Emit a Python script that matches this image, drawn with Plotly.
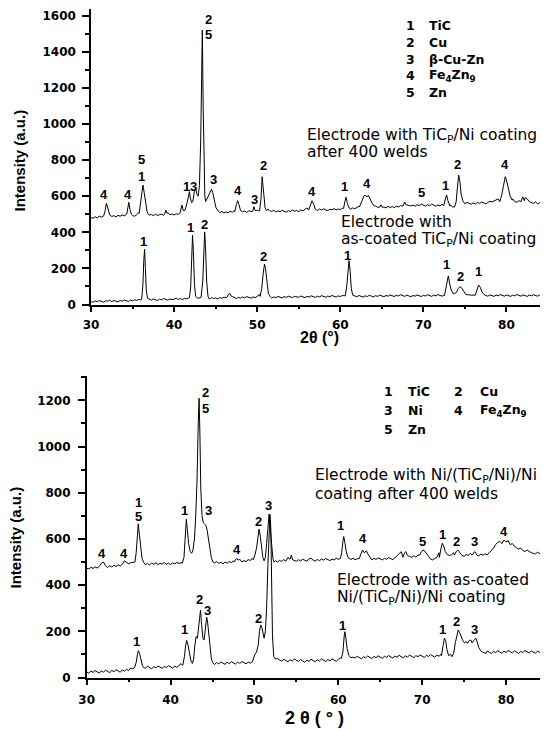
import numpy as np
import plotly.graph_objects as go

# ---------------- data ----------------
# 2-theta sampling grid of the diffractometer baseline
two_theta = np.round(np.arange(30.0, 85.001, 0.25), 2)

# --- Top panel, upper curve: TiCp/Ni coating after 400 welds ---
topA_base = [
    481, 478, 486, 480, 489, 484, 490, 500, 520, 496, 488, 492, 485, 494, 489, 496, 491, 499, 520, 500,
    493, 489, 497, 510, 540, 600, 530, 503, 495, 499, 492, 500, 494, 497, 501, 494, 510, 508, 497, 502,
    496, 503, 499, 506, 520, 540, 525, 560, 600, 610, 620, 900, 1000, 600, 580, 620, 630, 560, 530, 522,
    526, 515, 509, 516, 507, 513, 508, 518, 511, 520, 540, 570, 530, 514, 519, 510, 520, 515, 530, 540,
    522, 518, 560, 690, 600, 528, 521, 515, 523, 512, 519, 514, 522, 516, 511, 520, 515, 523, 517, 521,
    514, 524, 519, 527, 535, 560, 570, 540, 526, 521, 529, 523, 530, 524, 520, 528, 525, 531, 524, 529,
    526, 533, 545, 590, 560, 528, 535, 530, 540, 545, 590, 600, 604, 590, 570, 548, 540, 546, 538, 550,
    548, 540, 535, 544, 537, 543, 536, 545, 540, 548, 542, 552, 552, 548, 546, 551, 544, 553, 548, 556,
    550, 545, 553, 547, 556, 549, 544, 552, 546, 555, 570, 600, 590, 552, 540, 560, 700, 640, 575, 562,
    558, 566, 560, 555, 563, 557, 566, 560, 568, 562, 558, 565, 572, 568, 575, 578, 585, 640, 690, 700,
    680, 630, 600, 585, 570, 566, 575, 568, 580, 592, 585, 570, 566, 560, 568, 558, 564, 559, 565, 557,
    561]
topA_peaks = [
    [(31.55, 495), (31.7, 520), (31.85, 560), (32.0, 540), (32.15, 505)],
    [(34.3, 500), (34.45, 540), (34.55, 566), (34.7, 525), (34.85, 500)],
    [(35.8, 505), (35.95, 560), (36.1, 640), (36.25, 662), (36.4, 620), (36.55, 560), (36.75, 515), (36.9, 500)],
    [(38.85, 500), (39.0, 523), (39.15, 505)],
    [(40.7, 505), (40.85, 530), (40.95, 551), (41.1, 520), (41.3, 522), (41.55, 560), (41.75, 610),
     (41.85, 625), (41.95, 590), (42.1, 565), (42.25, 570), (42.45, 630), (42.6, 645), (42.75, 610),
     (42.9, 600), (43.05, 660), (43.2, 900), (43.3, 1250), (43.4, 1520), (43.5, 1100), (43.6, 760),
     (43.7, 600), (43.8, 570), (43.95, 585), (44.1, 600), (44.3, 625), (44.5, 638), (44.65, 620),
     (44.85, 570), (45.05, 535), (45.3, 518)],
    [(47.3, 515), (47.5, 555), (47.65, 575), (47.8, 555), (48.0, 520)],
    [(49.45, 516), (49.6, 542), (49.75, 520)],
    [(50.3, 522), (50.45, 580), (50.6, 708), (50.75, 610), (50.95, 535), (51.15, 520)],
    [(56.2, 523), (56.45, 560), (56.6, 575), (56.8, 555), (57.0, 528)],
    [(60.4, 532), (60.55, 570), (60.7, 594), (60.85, 560), (61.05, 535)],
    [(62.3, 540), (62.6, 575), (62.85, 600), (63.0, 607), (63.2, 596), (63.4, 604), (63.6, 580),
     (63.85, 560), (64.1, 545)],
    [(64.75, 540), (64.9, 552), (65.05, 538)],
    [(67.55, 545), (67.75, 568), (67.95, 550)],
    [(72.45, 548), (72.65, 585), (72.8, 607), (72.95, 575), (73.2, 545)],
    [(73.75, 540), (73.95, 570), (74.1, 650), (74.25, 717), (74.4, 680), (74.55, 610), (74.75, 575), (74.95, 562)],
    [(79.2, 570), (79.45, 610), (79.65, 660), (79.85, 708), (80.0, 690), (80.2, 640), (80.45, 600), (80.7, 578)],
    [(81.75, 570), (81.95, 597), (82.15, 575)],
]

# --- Top panel, lower curve: as-coated TiCp/Ni ---
topB_base = [
    16, 12, 20, 15, 22, 17, 13, 21, 18, 24, 16, 22, 19, 14, 23, 18, 25, 20, 17, 24,
    20, 26, 22, 28, 25, 60, 300, 80, 30, 24, 31, 27, 22, 30, 26, 33, 28, 24, 31, 27,
    29, 35, 28, 33, 27, 34, 31, 37, 300, 60, 33, 35, 36, 300, 40, 32, 37, 30, 38, 33,
    36, 31, 39, 34, 41, 37, 52, 62, 45, 38, 33, 40, 35, 42, 37, 44, 39, 35, 42, 38,
    45, 55, 120, 200, 100, 50, 40, 36, 42, 38, 45, 41, 36, 44, 39, 46, 41, 38, 45, 42,
    40, 47, 43, 38, 45, 41, 48, 43, 39, 46, 42, 49, 44, 40, 47, 43, 50, 45, 41, 48,
    44, 50, 48, 120, 240, 90, 52, 46, 43, 50, 45, 41, 48, 44, 51, 46, 42, 49, 45, 52,
    47, 43, 50, 46, 53, 48, 44, 51, 47, 54, 49, 45, 52, 47, 43, 50, 46, 53, 48, 44,
    51, 47, 54, 49, 45, 52, 48, 55, 50, 46, 53, 120, 160, 100, 60, 70, 95, 90, 70, 55,
    53, 50, 54, 52, 50, 90, 60, 52, 48, 55, 50, 46, 53, 49, 45, 52, 48, 55, 50, 46,
    53, 49, 45, 52, 48, 55, 50, 46, 53, 49, 45, 52, 48, 54, 50, 46, 53, 49, 45, 51,
    48]
topB_peaks = [
    [(36.1, 30), (36.25, 110), (36.35, 240), (36.45, 306), (36.55, 200), (36.65, 80), (36.8, 35)],
    [(41.85, 38), (42.0, 100), (42.12, 300), (42.22, 385), (42.32, 300), (42.45, 110), (42.6, 45), (42.8, 36)],
    [(43.25, 40), (43.45, 130), (43.58, 320), (43.68, 402), (43.78, 320), (43.92, 130), (44.08, 45)],
    [(46.4, 42), (46.55, 58), (46.7, 62), (46.85, 48)],
    [(50.35, 45), (50.55, 90), (50.72, 170), (50.88, 224), (51.0, 200), (51.15, 120), (51.35, 60), (51.6, 42)],
    [(60.6, 48), (60.8, 110), (60.93, 200), (61.05, 243), (61.18, 190), (61.32, 90), (61.5, 52)],
    [(72.55, 50), (72.75, 100), (72.9, 150), (73.0, 158), (73.15, 120), (73.35, 80), (73.6, 60), (73.8, 62)],
    [(73.95, 65), (74.2, 88), (74.4, 99), (74.6, 92), (74.85, 70), (75.1, 56), (75.4, 53)],
    [(76.25, 52), (76.45, 80), (76.65, 108), (76.85, 95), (77.05, 70), (77.3, 55)],
]

# --- Bottom panel, upper curve: Ni/(TiCp/Ni)/Ni after 400 welds ---
botA_base = [
    473, 470, 477, 472, 479, 474, 481, 495, 500, 483, 476, 484, 478, 486, 480, 488, 483, 490, 505, 498,
    492, 497, 500, 540, 640, 560, 510, 495, 488, 494, 487, 495, 490, 497, 489, 494, 491, 498, 490, 495,
    489, 496, 492, 498, 494, 497, 600, 685, 560, 540, 560, 700, 1200, 900, 700, 660, 640, 600, 560, 520,
    505, 496, 502, 494, 499, 492, 500, 495, 502, 497, 505, 512, 516, 508, 500, 506, 502, 510, 507, 515,
    512, 540, 630, 560, 506, 650, 700, 560, 503, 498, 505, 500, 507, 502, 510, 504, 520, 530, 512, 506,
    503, 510, 505, 512, 507, 503, 514, 516, 508, 504, 511, 506, 513, 508, 515, 510, 506, 513, 509, 516,
    512, 520, 560, 610, 560, 518, 511, 516, 510, 514, 530, 545, 552, 540, 530, 515, 509, 516, 511, 518,
    513, 509, 516, 512, 519, 514, 510, 518, 528, 538, 545, 530, 522, 518, 524, 520, 527, 521, 530, 540,
    552, 540, 525, 518, 512, 509, 515, 520, 540, 570, 581, 560, 535, 528, 532, 540, 552, 545, 535, 528,
    525, 532, 528, 538, 545, 540, 530, 527, 534, 529, 536, 531, 540, 550, 560, 575, 585, 590, 580, 595,
    588, 592, 575, 580, 568, 562, 556, 560, 550, 545, 552, 546, 540, 538, 535, 542, 536, 532, 538, 530,
    531]
botA_peaks = [
    [(35.75, 500), (35.9, 540), (36.02, 600), (36.15, 665), (36.28, 620), (36.42, 560), (36.6, 515), (36.8, 498)],
    [(41.4, 495), (41.6, 520), (41.75, 600), (41.88, 685), (42.0, 640), (42.15, 580), (42.35, 545),
     (42.5, 538), (42.65, 548), (42.85, 600), (43.0, 700), (43.15, 850), (43.3, 1100), (43.4, 1209),
     (43.5, 1050), (43.6, 820), (43.75, 700), (43.9, 670), (44.05, 665), (44.2, 660), (44.35, 640),
     (44.5, 600), (44.65, 560), (44.85, 520), (45.05, 500)],
    [(47.6, 500), (47.75, 510), (47.9, 516), (48.05, 508), (48.25, 512)],
    [(49.85, 510), (50.05, 530), (50.25, 560), (50.4, 600), (50.55, 642), (50.7, 610), (50.85, 560),
     (51.0, 520), (51.15, 505), (51.3, 520), (51.45, 580), (51.6, 670), (51.75, 708), (51.9, 640),
     (52.05, 560), (52.2, 515), (52.35, 500)],
    [(54.25, 512), (54.4, 530), (54.55, 510)],
    [(60.25, 515), (60.4, 540), (60.55, 590), (60.65, 610), (60.8, 580), (60.95, 545), (61.15, 520)],
    [(62.5, 515), (62.7, 535), (62.9, 552), (63.1, 540), (63.35, 548), (63.6, 530), (63.85, 515)],
    [(67.7, 520), (67.9, 540), (68.05, 545), (68.25, 528)],
    [(69.7, 530), (69.9, 545), (70.1, 552), (70.3, 548), (70.5, 535), (70.75, 525)],
    [(72.05, 520), (72.25, 560), (72.4, 581), (72.55, 570), (72.75, 545), (73.0, 532)],
    [(73.85, 530), (74.05, 545), (74.25, 552), (74.45, 540), (74.7, 530)],
    [(75.95, 530), (76.1, 540), (76.25, 545), (76.45, 535)],
]

# --- Bottom panel, lower curve: as-coated Ni/(TiCp/Ni)/Ni ---
botB_base = [
    25, 18, 28, 22, 30, 24, 19, 29, 23, 32, 26, 21, 31, 25, 34, 28, 23, 33, 27, 36,
    30, 41, 38, 45, 90, 116, 60, 44, 40, 49, 43, 38, 47, 42, 50, 45, 40, 48, 43, 51,
    46, 41, 49, 44, 52, 60, 120, 160, 110, 61, 100, 177, 240, 292, 162, 261, 200, 120, 75, 64,
    61, 56, 65, 59, 67, 62, 57, 66, 60, 68, 63, 58, 67, 61, 69, 64, 59, 67, 62, 70,
    100, 110, 150, 227, 170, 500, 700, 200, 85, 80, 74, 82, 76, 70, 79, 73, 68, 77, 71, 80,
    74, 69, 78, 72, 66, 75, 70, 79, 73, 68, 77, 71, 80, 74, 69, 78, 72, 81, 76, 70,
    79, 85, 110, 170, 198, 130, 95, 88, 84, 92, 86, 81, 90, 85, 93, 87, 82, 91, 86, 94,
    88, 83, 92, 87, 95, 89, 84, 93, 88, 96, 90, 85, 94, 89, 97, 91, 86, 95, 90, 98,
    92, 87, 96, 91, 99, 93, 88, 97, 92, 100, 130, 170, 120, 92, 110, 150, 190, 206, 180, 160,
    150, 148, 162, 150, 165, 170, 140, 110, 105, 112, 107, 115, 109, 104, 113, 108, 116, 110, 105, 114,
    108, 117, 111, 106, 115, 109, 104, 113, 108, 117, 111, 106, 115, 110, 105, 114, 109, 104, 113, 110,
    108]
botB_peaks = [
    [(35.7, 42), (35.9, 65), (36.05, 100), (36.15, 116), (36.3, 105), (36.45, 75), (36.65, 50)],
    [(41.45, 52), (41.65, 90), (41.8, 140), (41.92, 160), (42.05, 145), (42.25, 100), (42.45, 70),
     (42.6, 61), (42.75, 80), (42.9, 140), (43.05, 177), (43.2, 170), (43.35, 230), (43.5, 285),
     (43.57, 292), (43.7, 230), (43.85, 170), (44.0, 162), (44.15, 210), (44.3, 261), (44.4, 245),
     (44.55, 190), (44.7, 130), (44.85, 85), (45.0, 65), (45.2, 60)],
    [(49.75, 68), (49.9, 85), (50.05, 100), (50.25, 110), (50.45, 140), (50.6, 200), (50.75, 227),
     (50.9, 215), (51.05, 180), (51.15, 170), (51.3, 200), (51.45, 300), (51.6, 480), (51.75, 650),
     (51.85, 705), (51.95, 650), (52.05, 420), (52.15, 180), (52.3, 90), (52.5, 80)],
    [(60.35, 82), (60.55, 110), (60.7, 180), (60.78, 198), (60.9, 170), (61.05, 125), (61.25, 95), (61.5, 86)],
    [(72.3, 95), (72.5, 140), (72.65, 170), (72.8, 160), (72.95, 120), (73.15, 95), (73.4, 100), (73.55, 90)],
    [(73.75, 105), (73.95, 150), (74.15, 180), (74.3, 206), (74.45, 195), (74.65, 175), (74.85, 160),
     (75.05, 150), (75.25, 155), (75.4, 148), (75.6, 160), (75.8, 162), (75.95, 150), (76.15, 160),
     (76.4, 170), (76.55, 155), (76.75, 130), (77.0, 115), (77.3, 108), (77.6, 105)],
]

# peak index labels: (text, 2theta, intensity)
top_labels = [
    ("4", 31.6, 611), ("4", 34.5, 611), ("5", 36.1, 804), ("1", 36.1, 710),
    ("1", 41.45, 656), ("3", 42.3, 656), ("2", 44.13, 1580), ("5", 44.13, 1497),
    ("3", 44.73, 693), ("4", 47.67, 630), ("3", 49.64, 584), ("2", 50.76, 769),
    ("4", 56.59, 625), ("1", 60.48, 653), ("4", 63.2, 668), ("5", 69.81, 619),
    ("1", 72.65, 662), ("2", 74.1, 778), ("4", 79.88, 773),
    ("1", 36.3, 348), ("1", 42.01, 428), ("2", 43.6, 446), ("2", 50.76, 265),
    ("1", 60.81, 274), ("1", 72.77, 219), ("2", 74.46, 154), ("1", 76.59, 182),
]
bot_labels = [
    ("4", 31.79, 538), ("4", 34.48, 538), ("1", 36.14, 759), ("5", 36.14, 696),
    ("1", 41.7, 722), ("2", 44.2, 1233), ("5", 44.2, 1166), ("3", 44.48, 722),
    ("4", 47.86, 555), ("2", 50.43, 675), ("3", 51.62, 744), ("1", 60.3, 660),
    ("4", 62.93, 603), ("5", 70.0, 588), ("1", 72.38, 617), ("2", 74.12, 588),
    ("3", 76.23, 588), ("4", 79.8, 631),
    ("1", 35.95, 155), ("1", 41.7, 206), ("2", 43.49, 336), ("3", 44.36, 289),
    ("2", 50.43, 256), ("1", 60.55, 223), ("1", 72.46, 209), ("2", 74.12, 242),
    ("3", 76.23, 209),
]

top_phase_ids = ["1", "2", "3", "4", "5"]
top_phase_names = ["TiC", "Cu", "β-Cu-Zn", "Fe<sub>4</sub>Zn<sub>9</sub>", "Zn"]
bot_phase_ids = ["1", "2", "3", "4", "5"]
bot_phase_names = ["TiC", "Cu", "Ni", "Fe<sub>4</sub>Zn<sub>9</sub>", "Zn"]

x_ticks = [30, 40, 50, 60, 70, 80]
top_y_ticks = [0, 200, 400, 600, 800, 1000, 1200, 1400, 1600]
bot_y_ticks = [0, 200, 400, 600, 800, 1000, 1200]


def build(base, peaks):
    grid = two_theta
    keep = np.ones(len(grid), bool)
    px, py = [], []
    for seg in peaks:
        sx = [p[0] for p in seg]
        keep &= ~((grid >= min(sx)) & (grid <= max(sx)))
        px += sx
        py += [p[1] for p in seg]
    X = np.concatenate([grid[keep], np.array(px)])
    Y = np.concatenate([np.array(base, float)[keep], np.array(py, float)])
    o = np.argsort(X, kind="stable")
    return X[o], Y[o]


# The page body keeps its default 8 px margin, so the figure is laid out in page
# pixels minus that offset.
OFF = 8
W, H = 548 - OFF, 730 - OFF


def PX(p):
    return (p - OFF) / W


def PY(p):
    return 1 - (p - OFF) / H


fig = go.Figure()
for base, peaks, xa, ya in [(topA_base, topA_peaks, "x", "y"), (topB_base, topB_peaks, "x", "y"),
                            (botA_base, botA_peaks, "x2", "y2"), (botB_base, botB_peaks, "x2", "y2")]:
    X, Y = build(base, peaks)
    fig.add_trace(go.Scatter(x=X, y=Y, mode="lines", line=dict(color="black", width=1),
                             xaxis=xa, yaxis=ya, showlegend=False, hoverinfo="skip"))

TICKFONT = dict(family="DejaVu Sans", size=12, color="black", weight="bold")
LBLFONT = dict(family="Liberation Sans, Arial", size=13, color="black", weight="bold")
TXTFONT = dict(family="DejaVu Sans", size=15.5, color="black")
LEGFONT = dict(family="DejaVu Sans", size=12.5, color="black", weight="bold")


def xax(domain, yref, standoff):
    return dict(domain=domain, range=[30, 85], anchor=yref, tickvals=x_ticks, ticks="outside",
                ticklen=6, tickwidth=1.5, tickcolor="black", showline=True, linewidth=1.5,
                linecolor="black", showgrid=False, zeroline=False, tickfont=TICKFONT,
                ticklabelstandoff=standoff, automargin=False,
                minor=dict(ticks="outside", ticklen=3, tickwidth=1.5, tickcolor="black",
                           tickvals=[35, 45, 55, 65, 75, 85]))


def xtop(over, yref):
    return dict(overlaying=over, anchor=yref, side="top", range=[30, 85], tickvals=x_ticks,
                ticks="inside", ticklen=3, tickwidth=1, tickcolor="black", showline=True,
                linewidth=1.5, linecolor="black", showticklabels=False, showgrid=False,
                zeroline=False, automargin=False)


def yax(domain, xref, rng, vals, standoff):
    return dict(domain=domain, range=rng, anchor=xref, tickvals=vals, ticks="outside", ticklen=7,
                tickwidth=1.5, tickcolor="black", showline=True, linewidth=1.5, linecolor="black",
                showgrid=False, zeroline=False, tickfont=TICKFONT, ticklabelstandoff=standoff,
                automargin=False,
                minor=dict(ticks="outside", ticklen=4, tickwidth=1.5, tickcolor="black",
                           tickvals=[v + 100 for v in vals]))


# top panel: 0 at page y 304.5, 200 units per 36.1 px; frame starts at page y 9
top_y_max = (304.5 - 9) / 36.1 * 200
# bottom panel: 0 at page y 677.5, 200 units per 46.2 px; frame top at page y 376
bot_y_max = (677.5 - 376) / 46.2 * 200

fig.update_layout(
    width=W, height=H, margin=dict(l=0, r=0, t=0, b=0, autoexpand=False),
    plot_bgcolor="white", paper_bgcolor="white", showlegend=False,
    xaxis=xax([PX(91), 1.0], "y", 2),
    yaxis=yax([PY(304.5), PY(9)], "x", [0, top_y_max], top_y_ticks, 4),
    xaxis2=xax([PX(86.7), 1.0], "y2", 4),
    yaxis2=yax([PY(677.5), PY(376)], "x2", [0, bot_y_max], bot_y_ticks, 5),
    xaxis3=xtop("x", "y"),
    xaxis4=xtop("x2", "y2"),
)

ann = []
for lbls, xr, yr in [(top_labels, "x", "y"), (bot_labels, "x2", "y2")]:
    for t, x, y in lbls:
        ann.append(dict(text=t, x=x, y=y, xref=xr, yref=yr, showarrow=False,
                        xanchor="center", yanchor="middle", font=LBLFONT))


def txt(t, x, y, xr, yr):
    ann.append(dict(text=t, x=x, y=y, xref=xr, yref=yr, showarrow=False,
                    xanchor="left", yanchor="middle", font=TXTFONT))


txt("Electrode with TiC<sub>P</sub>/Ni coating", 55.78, 933, "x", "y")
txt("after 400 welds", 55.78, 845, "x", "y")
txt("Electrode with", 59.8, 459, "x", "y")
txt("as-coated TiC<sub>P</sub>/Ni coating", 59.8, 357, "x", "y")
txt("Electrode with Ni/(TiC<sub>P</sub>/Ni)/Ni", 56.98, 874, "x2", "y2")
txt("coating after 400 welds", 56.98, 793, "x2", "y2")
txt("Electrode with as-coated", 59.56, 422, "x2", "y2")
txt("Ni/(TiC<sub>P</sub>/Ni)/Ni coating", 59.56, 343, "x2", "y2")

top_rows = [1543, 1449, 1356, 1266, 1172]
for i, (n, name) in enumerate(zip(top_phase_ids, top_phase_names)):
    ann.append(dict(text=n, x=68.43, y=top_rows[i], xref="x", yref="y", showarrow=False,
                    xanchor="center", yanchor="middle", font=LEGFONT))
    ann.append(dict(text=name, x=70.45, y=top_rows[i], xref="x", yref="y", showarrow=False,
                    xanchor="left", yanchor="middle", font=LEGFONT))
bot_pos = [(66.02, 68.1, 1236), (74.36, 76.62, 1236), (66.02, 68.1, 1154), (74.36, 76.62, 1154),
           (66.02, 68.1, 1072)]
for (xn, xt, y), n, name in zip(bot_pos, bot_phase_ids, bot_phase_names):
    ann.append(dict(text=n, x=xn, y=y, xref="x2", yref="y2", showarrow=False,
                    xanchor="center", yanchor="middle", font=LEGFONT))
    ann.append(dict(text=name, x=xt, y=y, xref="x2", yref="y2", showarrow=False,
                    xanchor="left", yanchor="middle", font=LEGFONT))

# axis titles
TITLEFONT = dict(family="Liberation Sans, Arial", size=15, color="black", weight="bold")
ann.append(dict(text="Intensity (a.u.)", x=PX(19), y=PY(160.5), xref="paper", yref="paper",
                showarrow=False, textangle=-90, xanchor="center", yanchor="middle", font=TITLEFONT))
ann.append(dict(text="Intensity (a.u.)", x=PX(14.5), y=PY(538), xref="paper", yref="paper",
                showarrow=False, textangle=-90, xanchor="center", yanchor="middle", font=TITLEFONT))
ann.append(dict(text="2θ (°)", x=PX(320), y=PY(337), xref="paper", yref="paper",
                showarrow=False, xanchor="center", yanchor="middle", borderpad=0,
                font=dict(family="Liberation Sans, Arial", size=16, color="black", weight="bold")))
ann.append(dict(text="2 θ ( ° )", x=PX(314), y=PY(718), xref="paper", yref="paper",
                showarrow=False, xanchor="center", yanchor="middle", borderpad=0,
                font=dict(family="Liberation Sans, Arial", size=18, color="black", weight="bold")))

fig.update_layout(annotations=ann)
fig.write_html("out.html")
